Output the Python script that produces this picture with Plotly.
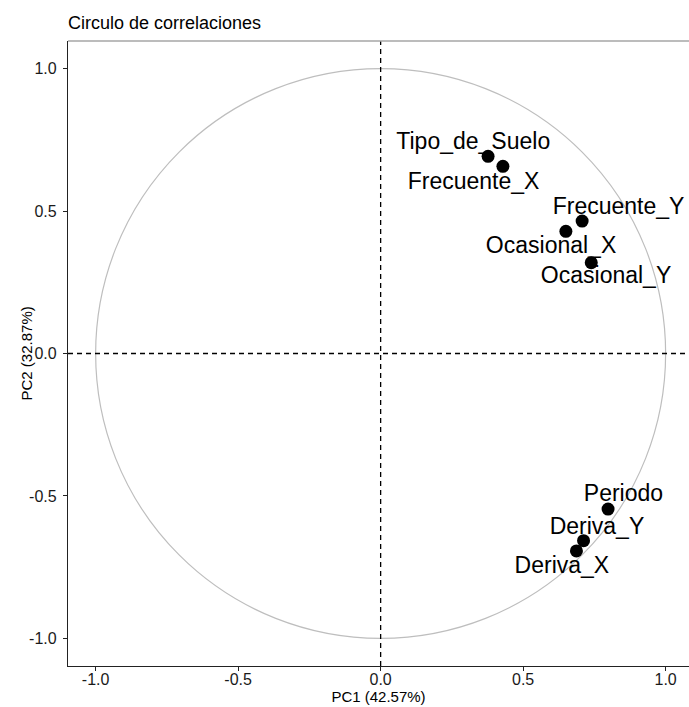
import plotly.graph_objects as go

# PCA variable loadings on the first two components
variables = ["Tipo_de_Suelo", "Frecuente_X", "Frecuente_Y", "Ocasional_X",
             "Ocasional_Y", "Periodo", "Deriva_Y", "Deriva_X"]
pc1 = [0.377, 0.429, 0.707, 0.650, 0.739, 0.798, 0.712, 0.687]
pc2 = [0.692, 0.657, 0.465, 0.429, 0.319, -0.546, -0.657, -0.693]

# label offsets (repelled away from the points)
label_dx = [-0.052, -0.103, 0.128, -0.052, 0.052, 0.054, 0.047, -0.051]
label_dy = [0.047, -0.061, 0.044, -0.055, -0.050, 0.049, 0.043, -0.056]

tick_vals = [-1.0, -0.5, 0.0, 0.5, 1.0]
tick_text = ["-1.0", "-0.5", "0.0", "0.5", "1.0"]

FONT = "Liberation Sans, Arial, sans-serif"
W, H = 689, 707
ML, MR, MT, MB = 68, 0, 41, 41

fig = go.Figure()

fig.add_trace(go.Scatter(
    x=pc1, y=pc2, mode="markers",
    marker=dict(color="black", size=13, line=dict(width=0)),
    hoverinfo="text", text=variables, showlegend=False,
))

fig.add_trace(go.Scatter(
    x=[a + b for a, b in zip(pc1, label_dx)],
    y=[a + b for a, b in zip(pc2, label_dy)],
    mode="text", text=variables, textposition="middle center",
    textfont=dict(family=FONT, size=23, color="black"),
    hoverinfo="skip", showlegend=False,
))

shapes = [
    # unit circle
    dict(type="circle", xref="x", yref="y", x0=-1, y0=-1, x1=1, y1=1,
         line=dict(color="#BEBEBE", width=1.2), layer="below"),
    # reference axes through the origin
    dict(type="line", xref="x", yref="paper", x0=0, x1=0, y0=0, y1=1,
         line=dict(color="black", width=1.3, dash="5px,4px")),
    dict(type="line", xref="paper", yref="y", x0=0, x1=1, y0=0, y1=0,
         line=dict(color="black", width=1.3, dash="5px,4px")),
    # top frame line
    dict(type="line", xref="paper", yref="paper", x0=0, x1=1, y0=1, y1=1,
         line=dict(color="#A6A6A6", width=1.5)),
]

# y-axis title as a rotated annotation for finer placement
annotations = [
    dict(text="PC2 (32.87%)", textangle=-90, showarrow=False,
         xref="paper", yref="paper", x=(26 - ML) / (W - ML - MR), y=0.5,
         xanchor="center", yanchor="middle",
         font=dict(size=15, color="black", family=FONT)),
]

fig.update_layout(
    width=W, height=H,
    margin=dict(l=ML, r=MR, t=MT, b=MB),
    paper_bgcolor="white", plot_bgcolor="white",
    font=dict(family=FONT, color="black"),
    shapes=shapes, annotations=annotations,
    title=dict(text="Circulo de correlaciones", x=68 / W, xref="container",
               xanchor="left", y=1 - 23 / H, yanchor="middle",
               font=dict(size=18, color="black", family=FONT)),
    xaxis=dict(
        range=[-1.097, 1.082], tickvals=tick_vals, ticktext=tick_text,
        showgrid=False, zeroline=False, showline=True, linecolor="#222",
        linewidth=1.3, ticks="outside", ticklen=4, tickwidth=1.1,
        tickcolor="#222", tickfont=dict(size=16, color="#1a1a1a"),
        ticklabelstandoff=-5,
        title=dict(text="PC1 (42.57%)", font=dict(size=15), standoff=0),
    ),
    yaxis=dict(
        range=[-1.097, 1.097], tickvals=tick_vals, ticktext=tick_text,
        showgrid=False, zeroline=False, showline=True, linecolor="#222",
        linewidth=1.3, ticks="outside", ticklen=4, tickwidth=1.1,
        tickcolor="#222", tickfont=dict(size=16, color="#1a1a1a"),
        ticklabelstandoff=3,
    ),
)

fig.write_html("out.html")
